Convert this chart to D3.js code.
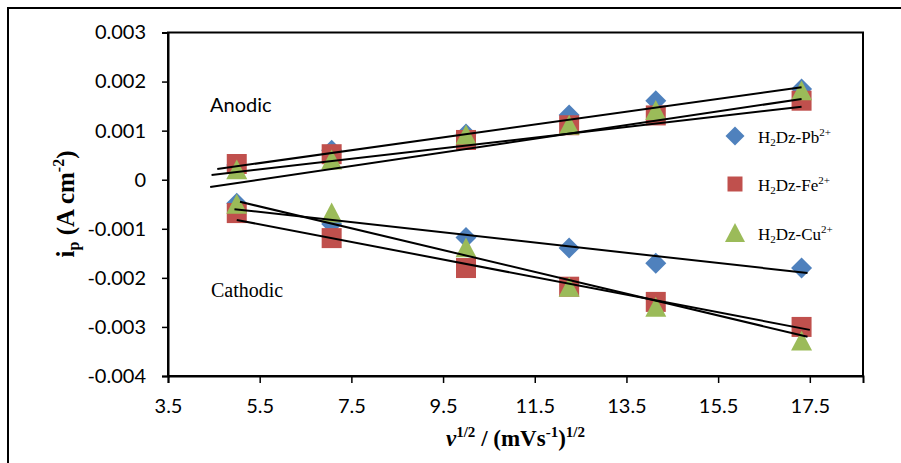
<!DOCTYPE html>
<html>
<head>
<meta charset="utf-8">
<script src="https://cdn.jsdelivr.net/npm/d3@7"></script>
<style>
  html, body { margin: 0; padding: 0; background: #fff; }
  svg { display: block; }
</style>
</head>
<body>
<svg id="chart" width="901" height="463"></svg>
<script>
// Square root of scan rate, (mV/s)^1/2
const sqrtScanRate = [5, 7.07, 10, 12.25, 14.14, 17.32];

// Peak currents, in units of 1e-3 A cm^-2
const anodicPb = [0.30, 0.60, 0.93, 1.32, 1.61, 1.85];
const anodicFe = [0.32, 0.52, 0.81, 1.11, 1.31, 1.61];
const anodicCu = [0.20, 0.40, 0.91, 1.11, 1.41, 1.81];
const cathodicPb = [-0.48, -0.90, -1.18, -1.39, -1.70, -1.80];
const cathodicFe = [-0.68, -1.19, -1.80, -2.18, -2.49, -3.00];
const cathodicCu = [-0.50, -0.68, -1.39, -2.19, -2.60, -3.29];

// Linear trendlines: [x start, i start, x end, i end], i in 1e-3 A cm^-2
const trendAnodicPb = [4.575, 0.218, 17.32, 1.883];
const trendAnodicFe = [4.45, 0.096, 17.32, 1.488];
const trendAnodicCu = [4.42, -0.149, 17.32, 1.645];
const trendCathodicPb = [4.95, -0.60, 17.45, -1.90];
const trendCathodicFe = [5.0, -0.82, 17.5, -3.06];
const trendCathodicCu = [5.07, -0.45, 17.45, -3.20];

const xTicks = [3.5, 5.5, 7.5, 9.5, 11.5, 13.5, 15.5, 17.5];
const yTicks = [0.003, 0.002, 0.001, 0, -0.001, -0.002, -0.003, -0.004];
const seriesNames = ["Pb", "Fe", "Cu"];

const series = [
  { name: "Pb", shape: "diamond", color: "#4F81BD", anodic: anodicPb, cathodic: cathodicPb, trends: [trendAnodicPb, trendCathodicPb] },
  { name: "Fe", shape: "square", color: "#C0504D", anodic: anodicFe, cathodic: cathodicFe, trends: [trendAnodicFe, trendCathodicFe] },
  { name: "Cu", shape: "triangle", color: "#9BBB59", anodic: anodicCu, cathodic: cathodicCu, trends: [trendAnodicCu, trendCathodicCu] }
];

const svg = d3.select("#chart");
const plot = { left: 168, top: 32.5, right: 863, bottom: 376 };

const x = d3.scaleLinear().domain([3.5, 18.66]).range([plot.left, plot.right]);
const y = d3.scaleLinear().domain([-0.004, 0.003]).range([plot.bottom, plot.top]);

// Outer chart frame
svg.append("rect")
  .attr("x", 8).attr("y", 8).attr("width", 910).attr("height", 470)
  .attr("fill", "none").attr("stroke", "#000").attr("stroke-width", 2);

// Plot area box
svg.append("rect")
  .attr("x", plot.left).attr("y", plot.top)
  .attr("width", plot.right - plot.left).attr("height", plot.bottom - plot.top)
  .attr("fill", "none").attr("stroke", "#000").attr("stroke-width", 2);

// Axes
const fmtY = d => d === 0 ? "0" : d3.format(".3f")(d).replace("−", "-");
const yAxis = d3.axisLeft(y).tickValues(yTicks).tickSize(6).tickPadding(16).tickFormat(fmtY);
const xAxis = d3.axisBottom(x).tickValues(xTicks).tickSize(7).tickPadding(16).tickFormat(d3.format(".1f"));

const gy = svg.append("g").attr("transform", `translate(${plot.left},0)`).call(yAxis);
const gx = svg.append("g").attr("transform", `translate(0,${plot.bottom})`).call(xAxis);
[gx, gy].forEach(g => {
  g.select(".domain").attr("stroke", "#000").attr("stroke-width", 2);
  g.selectAll(".tick line").attr("stroke", "#000").attr("stroke-width", 1.5);
  g.selectAll(".tick text")
    .attr("fill", "#000")
    .style("font-family", "Lato, 'Open Sans', sans-serif")
    .style("font-size", "20px");
});

// Marker shapes centred on (0,0)
function markerPath(shape, s) {
  const h = s / 2;
  if (shape === "diamond") return `M0,${-h}L${h},0L0,${h}L${-h},0Z`;
  if (shape === "square") return `M${-h},${-h}H${h}V${h}H${-h}Z`;
  return `M0,${-h}L${h},${h * 0.9}L${-h},${h * 0.9}Z`;
}
const markerSize = { diamond: 21, square: 20, triangle: 21 };

const markers = svg.append("g");
series.forEach(s => {
  [s.anodic, s.cathodic].forEach(vals => {
    markers.append("g").selectAll("path")
      .data(vals.map((v, i) => [sqrtScanRate[i], v * 1e-3]))
      .join("path")
      .attr("transform", d => `translate(${x(d[0])},${y(d[1])})`)
      .attr("d", markerPath(s.shape, markerSize[s.shape]))
      .attr("fill", s.color);
  });
});

// Trendlines over the markers
const trendG = svg.append("g");
series.forEach(s => {
  s.trends.forEach(t => {
    trendG.append("line")
      .attr("x1", x(t[0])).attr("y1", y(t[1] * 1e-3))
      .attr("x2", x(t[2])).attr("y2", y(t[3] * 1e-3))
      .attr("stroke", "#000").attr("stroke-width", 2);
  });
});

// Region labels
svg.append("text").attr("x", 210).attr("y", 112)
  .style("font-family", "Lato, 'Open Sans', sans-serif").style("font-size", "20px")
  .text("Anodic");
svg.append("text").attr("x", 211).attr("y", 297)
  .style("font-family", "'Liberation Serif', 'Times New Roman', serif").style("font-size", "20px")
  .text("Cathodic");

// Legend
const legendRows = [
  { y: 136, size: 19 },
  { y: 184, size: 15 },
  { y: 233, size: 20 }
];
const legend = svg.append("g");
series.forEach((s, i) => {
  const row = legendRows[i];
  legend.append("path")
    .attr("transform", `translate(735,${row.y})`)
    .attr("d", markerPath(s.shape, row.size))
    .attr("fill", s.color);
  const t = legend.append("text")
    .attr("x", 758).attr("y", row.y + 7)
    .style("font-family", "'Liberation Serif', 'Times New Roman', serif")
    .style("font-size", "17px");
  t.append("tspan").text("H");
  t.append("tspan").attr("dy", 3).style("font-size", "11px").text("2");
  t.append("tspan").attr("dy", -3).text("Dz-" + seriesNames[i]);
  t.append("tspan").attr("dy", -7).style("font-size", "11px").text("2+");
});

// Axis titles
const serif = "'Liberation Serif', 'Times New Roman', serif";
const yTitle = svg.append("text")
  .attr("transform", "translate(74,204) rotate(-90)")
  .attr("text-anchor", "middle")
  .style("font-family", serif).style("font-size", "25px").style("font-weight", "bold");
yTitle.append("tspan").text("i");
yTitle.append("tspan").attr("dy", 5).style("font-size", "16px").text("p");
yTitle.append("tspan").attr("dy", -5).text(" (A cm");
yTitle.append("tspan").attr("dy", -10).style("font-size", "16px").text("-2");
yTitle.append("tspan").attr("dy", 10).text(")");

const xTitle = svg.append("text")
  .attr("x", (plot.left + plot.right) / 2).attr("y", 446)
  .attr("text-anchor", "middle")
  .style("font-family", serif).style("font-size", "23px").style("font-weight", "bold");
xTitle.append("tspan").style("font-style", "italic").text("v");
xTitle.append("tspan").attr("dy", -9).style("font-size", "15px").text("1/2");
xTitle.append("tspan").attr("dy", 9).text(" / (mVs");
xTitle.append("tspan").attr("dy", -9).style("font-size", "15px").text("-1");
xTitle.append("tspan").attr("dy", 9).text(")");
xTitle.append("tspan").attr("dy", -9).style("font-size", "15px").text("1/2");
</script>
</body>
</html>
